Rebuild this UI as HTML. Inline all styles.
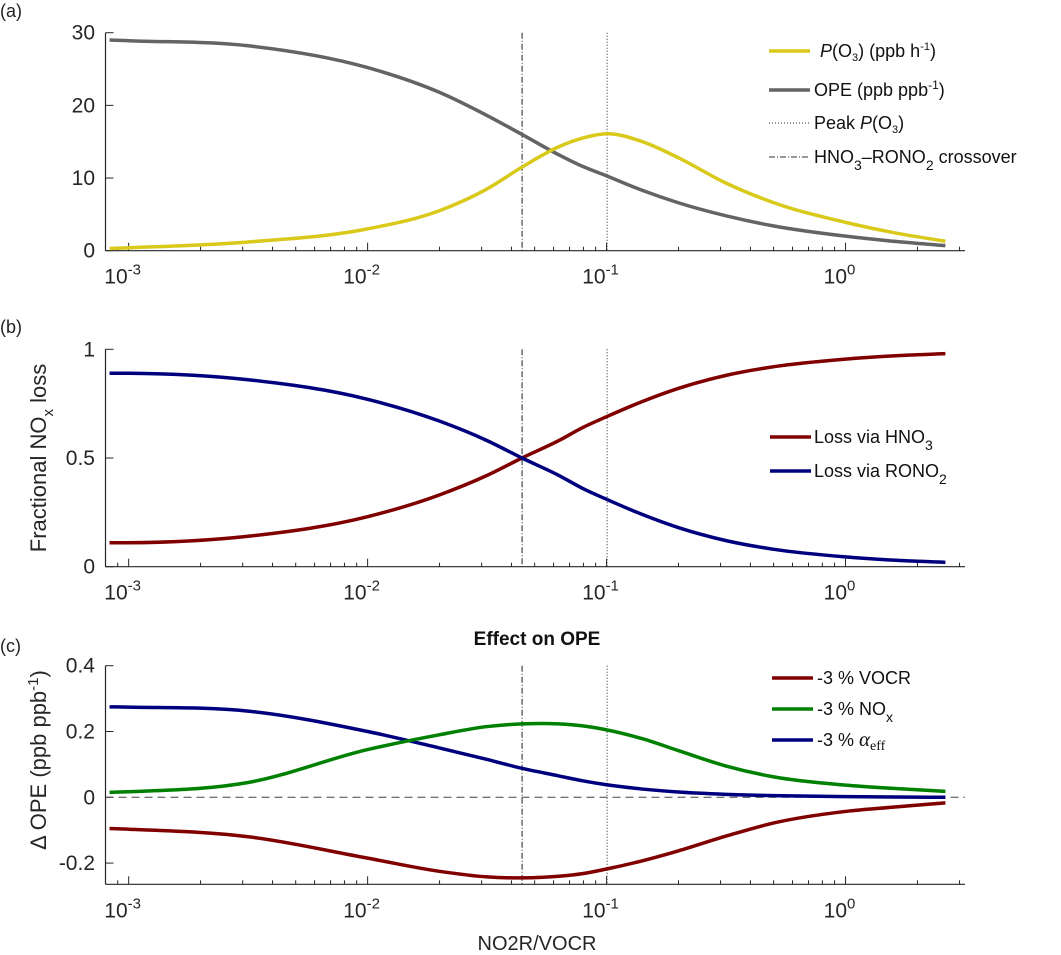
<!DOCTYPE html>
<html><head><meta charset="utf-8"><style>
body{margin:0;background:#fff}
svg{display:block;font-family:"Liberation Sans",sans-serif}
</style></head><body>
<svg id="fig" width="1061" height="955" viewBox="0 0 1061 955"></svg>
<script>
const xLog = [-3.08,-3,-2.5,-2,-1.7,-1.5,-1.354,-1.2,-1.1,-1,-0.85,-0.7,-0.5,-0.3,0,0.2,0.418];
const pO3 = [0.3,0.4,1.2,3.0,5.5,8.5,11.5,14.3,15.5,16.1,15.0,12.8,9.3,6.6,3.9,2.5,1.3];
const ope = [29.0,28.9,28.2,25.2,21.8,18.6,16.0,13.2,11.6,10.3,8.3,6.6,4.8,3.4,2.0,1.3,0.7];
const lossHNO3 = [0.11,0.11,0.14,0.23,0.33,0.42,0.5,0.58,0.64,0.69,0.76,0.82,0.88,0.92,0.955,0.97,0.98];
const lossRONO2 = [0.89,0.89,0.86,0.77,0.67,0.58,0.5,0.42,0.36,0.31,0.24,0.18,0.12,0.08,0.045,0.03,0.02];
const dVOCR = [-0.095,-0.097,-0.12,-0.185,-0.225,-0.242,-0.245,-0.24,-0.232,-0.218,-0.193,-0.163,-0.118,-0.078,-0.043,-0.03,-0.017];
const dNOx = [0.015,0.017,0.045,0.145,0.19,0.215,0.223,0.223,0.217,0.205,0.178,0.142,0.095,0.062,0.037,0.027,0.018];
const dAlpha = [0.275,0.274,0.262,0.2,0.15,0.115,0.088,0.065,0.05,0.038,0.025,0.016,0.009,0.005,0.002,0.001,0.0];
const crossoverX = 0.0443;
const peakX = 0.1005;
const xTickExp = [-3,-2,-1,0];

const NS="http://www.w3.org/2000/svg";
const svg=document.getElementById('fig');
function el(tag,attrs,parent){const e=document.createElementNS(NS,tag);for(const k in attrs)e.setAttribute(k,attrs[k]);(parent||svg).appendChild(e);return e;}
const X0=105.5,X1=965,XMIN=Math.log10(8e-4),XMAX=0.5;
function xs(l){return X0+(l-XMIN)/(XMAX-XMIN)*(X1-X0);}
function path(pts){
 const n=pts.length,m=[];
 for(let i=0;i<n;i++){
  if(i==0)m.push((pts[1][1]-pts[0][1])/(pts[1][0]-pts[0][0]));
  else if(i==n-1)m.push((pts[n-1][1]-pts[n-2][1])/(pts[n-1][0]-pts[n-2][0]));
  else{const d0=(pts[i][1]-pts[i-1][1])/(pts[i][0]-pts[i-1][0]),d1=(pts[i+1][1]-pts[i][1])/(pts[i+1][0]-pts[i][0]);
   const h0=pts[i][0]-pts[i-1][0],h1=pts[i+1][0]-pts[i][0];
   m.push((d0*h1+d1*h0)/(h0+h1));}
 }
 let d='M'+pts[0][0]+','+pts[0][1];
 for(let i=0;i<n-1;i++){const h=pts[i+1][0]-pts[i][0];
  d+=' C'+(pts[i][0]+h/3)+','+(pts[i][1]+m[i]*h/3)+' '+(pts[i+1][0]-h/3)+','+(pts[i+1][1]-m[i+1]*h/3)+' '+pts[i+1][0]+','+pts[i+1][1];}
 return d;}

const panels=[
 {id:'a',top:32.7,bot:250.7,ymin:0,ymax:30,yt:[0,10,20,30],ytl:['0','10','20','30'],lab:'(a)',labY:17},
 {id:'b',top:349.3,bot:566.7,ymin:0,ymax:1,yt:[0,0.5,1],ytl:['0','0.5','1'],lab:'(b)',labY:333},
 {id:'c',top:665.7,bot:884.3,ymin:-0.2645,ymax:0.4,yt:[-0.2,0,0.2,0.4],ytl:['-0.2','0','0.2','0.4'],lab:'(c)',labY:652}
];
panels.forEach(p=>{
 p.ys=v=>p.bot-(v-p.ymin)/(p.ymax-p.ymin)*(p.bot-p.top);
 const g=el('g',{});
 
 
 const t=el('text',{x:0,y:p.labY,'font-size':18,fill:'#222'},g);t.textContent=p.lab;
 
 
 el('line',{x1:X0,y1:p.top,x2:X0,y2:p.bot,stroke:'#262626','stroke-width':1.2},g);
 el('line',{x1:X0,y1:p.bot,x2:X1,y2:p.bot,stroke:'#262626','stroke-width':1.2},g);
 p.yt.forEach((v,i)=>{const y=p.ys(v);el('line',{x1:X0,y1:y,x2:X0+8,y2:y,stroke:'#262626','stroke-width':1},g);
  const tx=el('text',{x:95,y:y+7,'font-size':21,'text-anchor':'end',fill:'#262626'},g);tx.textContent=p.ytl[i];
  
  });
 for(let e=-4;e<=0;e++)for(let m=1;m<10;m++){const l=e+Math.log10(m);if(l<XMIN||l>XMAX)continue;const x=xs(l);
  el('line',{x1:x,y1:p.bot,x2:x,y2:p.bot-(m==1?8:4),stroke:'#262626','stroke-width':1},g);}
 xTickExp.forEach(e=>{const x=xs(e);const tx=el('text',{x:x-6,y:p.bot+33,'font-size':21,'text-anchor':'middle',fill:'#262626'},g);
  tx.innerHTML='10<tspan dy="-9" font-size="15">'+e+'</tspan>';
  
  });
 const cx=xs(Math.log10(crossoverX)),px=xs(Math.log10(peakX));
 const l1=el('line',{x1:cx,y1:p.top,x2:cx,y2:p.bot,stroke:'#222','stroke-width':1,'stroke-dasharray':'6,2,1,2'},g);
 
 
 const l2=el('line',{x1:px,y1:p.top,x2:px,y2:p.bot,stroke:'#222','stroke-width':1,'stroke-dasharray':'1,2'},g);
 
 
 p.g=g;
});
function series(p,vals,color,name){const pts=xLog.map((l,i)=>[xs(l),p.ys(vals[i])]);
 const e=el('path',{d:path(pts),fill:'none',stroke:color,'stroke-width':3.5},p.g);
 
 }
const [A,B,C]=panels;
series(A,ope,'#646464','ope-line');
series(A,pO3,'#d9c91a','po3-line');
series(B,lossHNO3,'#800000','hno3-loss-line');
series(B,lossRONO2,'#00007f','rono2-loss-line');
const z=el('line',{x1:X0,y1:C.ys(0),x2:X1,y2:C.ys(0),stroke:'#444','stroke-width':1,'stroke-dasharray':'8,5'},C.g);


series(C,dAlpha,'#00007f','alpha-line');
series(C,dNOx,'#008000','nox-line');
series(C,dVOCR,'#800000','vocr-line');

function legend(x1,y,color,dash,html,tx,name){const g=el('g',{});
 
 
 el('line',Object.assign({x1:x1,y1:y,x2:x1+41,y2:y,stroke:color,'stroke-width':dash?1:3.5},dash?{'stroke-dasharray':dash}:{}),g);
 const t=el('text',{x:tx,y:y+6,'font-size':18,fill:'#111'},g);t.innerHTML=html;}
legend(769,51,'#d9c91a',null,'<tspan font-style="italic">P</tspan>(O<tspan dy="4" font-size="11">3</tspan><tspan dy="-4">) (ppb h</tspan><tspan dy="-7" font-size="11">-1</tspan><tspan dy="7">)</tspan>',820,'legend-po3');
legend(769,90,'#646464',null,'OPE (ppb ppb<tspan dy="-7" font-size="12">-1</tspan><tspan dy="7">)</tspan>',814,'legend-ope');
legend(769,123,'#333','1,2','Peak <tspan font-style="italic">P</tspan>(O<tspan dy="4" font-size="11">3</tspan><tspan dy="-4">)</tspan>',814,'legend-peak');
legend(769,157,'#333','6,2,1,2','HNO<tspan dy="7" font-size="14">3</tspan><tspan dy="-7">–RONO</tspan><tspan dy="7" font-size="14">2</tspan><tspan dy="-7">  crossover</tspan>',814,'legend-crossover');
legend(770,437,'#800000',null,'Loss via HNO<tspan dy="7" font-size="14">3</tspan>',814,'legend-hno3');
legend(770,471,'#00007f',null,'Loss via RONO<tspan dy="7" font-size="14">2</tspan>',814,'legend-rono2');
legend(772,678,'#800000',null,'-3 % VOCR',817,'legend-vocr');
legend(772,709,'#008000',null,'-3 % NO<tspan dy="7" font-size="14">x</tspan>',817,'legend-nox');
legend(772,740,'#00007f',null,'-3 % <tspan font-family="Liberation Serif" font-style="italic" font-size="21">α</tspan><tspan dy="4" font-family="Liberation Serif" font-size="14">eff</tspan>',817,'legend-alpha');

function txt(attrs,html,name){const t=el('text',attrs);t.innerHTML=html;
 
 }
txt({x:537,y:645,'font-size':19,'font-weight':'bold','text-anchor':'middle',fill:'#111'},'Effect on OPE','chart-title-c');
txt({x:537,y:950,'font-size':20,'text-anchor':'middle',fill:'#262626'},'NO2R/VOCR','x-axis-title');
txt({x:0,y:0,'font-size':22,'text-anchor':'middle',fill:'#262626',transform:'translate(46,458) rotate(-90)'},'Fractional NO<tspan dy="7" font-size="15">x</tspan><tspan dy="-7"> loss</tspan>','y-axis-title-b');
txt({x:0,y:0,'font-size':22,'text-anchor':'middle',fill:'#262626',transform:'translate(46,760) rotate(-90)'},'Δ OPE (ppb ppb<tspan dy="-8" font-size="15">-1</tspan><tspan dy="8">)</tspan>','y-axis-title-c');
</script>
</body></html>
